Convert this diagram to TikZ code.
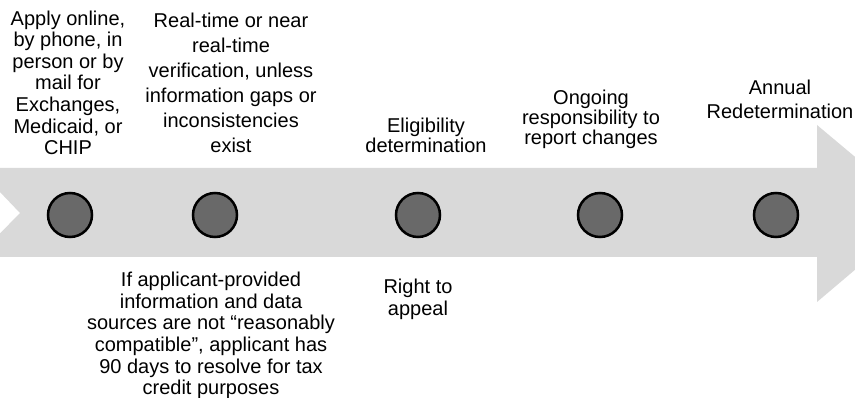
\documentclass[tikz,border=0pt]{standalone}
\usepackage{fontspec}
\setmainfont{Liberation Sans}
\usetikzlibrary{positioning}
\definecolor{arrowgray}{RGB}{217,217,217}
\definecolor{dotgray}{RGB}{105,105,105}

\begin{document}
\begin{tikzpicture}[
            x=1pt, y=-1pt,
            node distance=41pt,
            dot/.style={
                circle,
                draw=black,
                line width=2.5pt,
                fill=dotgray,
                minimum size=44pt,
                inner sep=0pt
            },
            note/.style={
                align=center,
                inner sep=0pt,
                font=\fontsize{20}{21.6}\selectfont
            },
            loose/.style={note,font=\fontsize{20}{25}\selectfont},
            tight/.style={note,font=\fontsize{20}{20}\selectfont}
        ]
            \useasboundingbox (0,0) rectangle (855,398);
            \clip (0,0) rectangle (855,398);

            % timeline arrow
            \fill[arrowgray] (-23,168) -- (817,168) -- (817,125) -- (922,213)
                -- (817,302) -- (817,257) -- (-23,257) -- (20,213) -- cycle;

            \node[dot] (applydot) at (70,215) {};
            \node[dot] (verifydot) at (215,215) {};
            \node[dot] (decidedot) at (418,215) {};
            \node[dot] (reportdot) at (600,215) {};
            \node[dot] (renewdot) at (776,215) {};

            \node[note,anchor=south] (apply) at (68,155)
            {Apply online,\\by phone, in\\person or by\\mail for\\Exchanges,\\Medicaid, or\\CHIP};

            \node[loose,anchor=south] (verify) at (231,153)
            {Real-time or near\\real-time\\verification, unless\\information gaps or\\inconsistencies\\exist};

            \node[tight,anchor=south] (decide) at (426,153)
            {Eligibility\\determination};

            \node[tight,anchor=south] (report) at (591,149)
            {Ongoing\\responsibility to\\report changes};

            \node[note,font=\fontsize{20}{24}\selectfont,anchor=south] (renew) at (780,119)
            {Annual\\Redetermination};

            \node[note,anchor=north] (resolve) at (211,272)
            {If applicant-provided\\information and data\\sources are not “reasonably\\compatible”, applicant has\\90 days to resolve for tax\\credit purposes};

            \node[note,below=of decidedot] (appeal)
            {Right to\\appeal};
        \end{tikzpicture}
\end{document}
